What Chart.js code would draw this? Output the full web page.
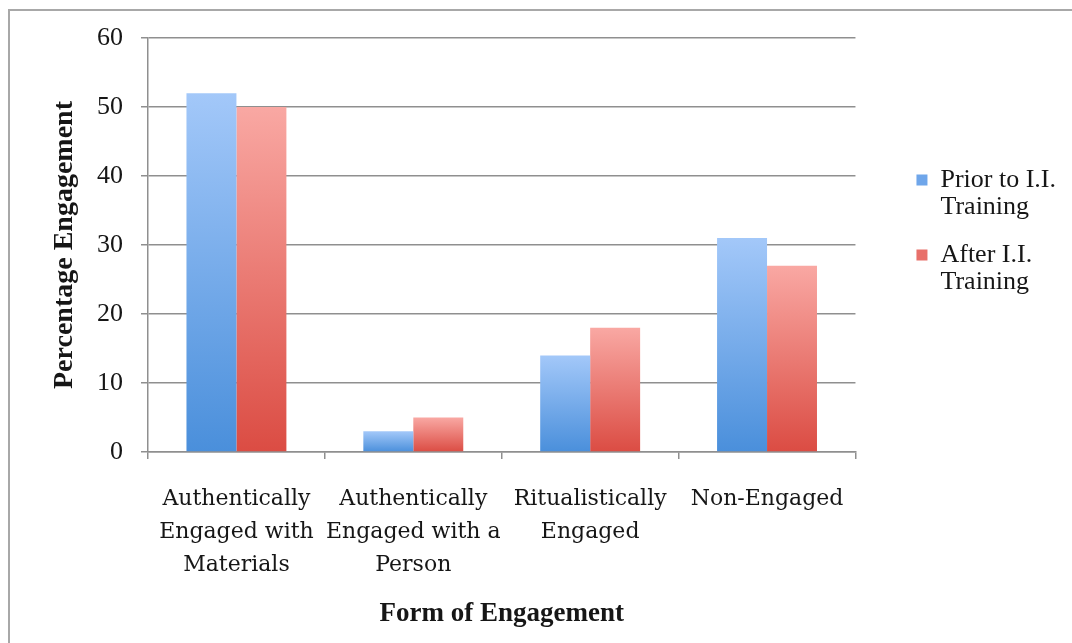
<!DOCTYPE html>
<html>
<head>
<meta charset="utf-8">
<script src="https://cdn.jsdelivr.net/npm/chart.js@4.4.1/dist/chart.umd.min.js"></script>
<style>
  html, body { margin: 0; padding: 0; overflow: hidden; background: #fff; }
  .frame { position: absolute; left: 8px; top: 9px; width: 1100px; height: 700px; border: 2px solid #a8a8a8; }
  .chart-box { position: absolute; left: 0; top: 0; width: 1072px; height: 643px; }
</style>
</head>
<body>
<div class="frame"></div>
<div class="chart-box"><canvas id="engagementChart"></canvas></div>
<script>
const categories = [
    ["Authentically", "Engaged with", "Materials"],
    ["Authentically", "Engaged with a", "Person"],
    ["Ritualistically", "Engaged"],
    ["Non-Engaged"]
]
const priorValues = [52, 3, 14, 31]
const afterValues = [50, 5, 18, 27]
const seriesNames = ["Prior to I.I. Training", "After I.I. Training"]
const legendLines = [["Prior to I.I.", "Training"], ["After I.I.", "Training"]]
const yTicks = [0, 10, 20, 30, 40, 50, 60]

const gridGray = "#8f8f8f"
const textColor = "#161616"

// each bar gets its own light-to-dark fade, top to base
function barFill(topColor, baseColor) {
    return (context) => {
        const chart = context.chart
        if (!chart.chartArea || context.type !== "data") return baseColor
        const y = chart.scales.y
        const top = y.getPixelForValue(context.raw)
        const base = y.getPixelForValue(0)
        const g = chart.ctx.createLinearGradient(0, top, 0, base)
        g.addColorStop(0, topColor)
        g.addColorStop(1, baseColor)
        return g
    }
}

const ctx = document.getElementById("engagementChart").getContext("2d")
const engagementChart = new Chart(ctx, {
    type: "bar",
    data: {
        labels: categories,
        datasets: [{
            label: seriesNames[0],
            data: priorValues,
            backgroundColor: barFill("#a3c8f9", "#4a8fdb"),
            legendColor: "#6fa6ea",
            categoryPercentage: 0.565,
            barPercentage: 1
        }, {
            label: seriesNames[1],
            data: afterValues,
            backgroundColor: barFill("#f9a8a3", "#db4c43"),
            legendColor: "#e8706a",
            categoryPercentage: 0.565,
            barPercentage: 1
        }]
    },
    options: {
        responsive: true,
        maintainAspectRatio: false,
        animation: false,
        layout: {
            padding: { left: 0, top: 38, right: 6, bottom: 0 }
        },
        scales: {
            x: {
                grid: {
                    offset: true,
                    drawOnChartArea: false,
                    drawTicks: true,
                    tickLength: 7,
                    color: gridGray,
                    lineWidth: 1.5
                },
                border: { color: gridGray, width: 1.5 },
                ticks: {
                    autoSkip: false,
                    maxRotation: 0,
                    minRotation: 0,
                    padding: 24,
                    color: textColor,
                    font: { family: "DejaVu Serif", size: 22, lineHeight: 1.5 }
                },
                title: {
                    display: true,
                    text: "Form of Engagement",
                    color: textColor,
                    font: { family: "Liberation Serif", size: 27, weight: "bold", lineHeight: 1.2 },
                    padding: { top: 0, bottom: 13 }
                },
                afterFit(scale) {
                    scale.height = 191
                }
            },
            y: {
                min: yTicks[0],
                max: yTicks[yTicks.length - 1],
                afterBuildTicks(scale) {
                    scale.ticks = yTicks.map(v => ({ value: v }))
                },
                grid: {
                    color: gridGray,
                    lineWidth: 1.5,
                    tickLength: 7
                },
                border: { color: gridGray, width: 1.5 },
                ticks: {
                    padding: 18,
                    color: textColor,
                    font: { family: "Liberation Serif", size: 26 }
                },
                title: {
                    display: true,
                    text: "Percentage Engagement",
                    color: textColor,
                    font: { family: "Liberation Serif", size: 28, weight: "bold", lineHeight: 1.2 },
                    padding: { top: 48, bottom: 0 }
                },
                afterFit(scale) {
                    scale.width = 148
                }
            },
            // empty axis, only keeps the legend away from the plot
            gap: {
                position: "right",
                grid: { display: false },
                border: { display: false },
                ticks: { display: false },
                afterFit(scale) {
                    scale.width = 40
                }
            }
        },
        plugins: {
            tooltip: { enabled: false },
            legend: {
                position: "right",
                fullSize: false,
                labels: {
                    boxWidth: 11,
                    boxHeight: 11,
                    padding: 21,
                    color: textColor,
                    font: { family: "Liberation Serif", size: 26, lineHeight: 1.04 },
                    generateLabels(chart) {
                        const items = Chart.defaults.plugins.legend.labels.generateLabels(chart)
                        return items.map((item, i) => {
                            const ds = chart.data.datasets[item.datasetIndex]
                            const lines = legendLines[i].slice()
                            // spare line under the last entry lifts the block a little
                            if (i === items.length - 1) lines.push("")
                            return Object.assign(item, {
                                text: lines,
                                fillStyle: ds.legendColor,
                                strokeStyle: ds.legendColor,
                                lineWidth: 0
                            })
                        })
                    }
                }
            }
        }
    }
})
</script>
</body>
</html>
